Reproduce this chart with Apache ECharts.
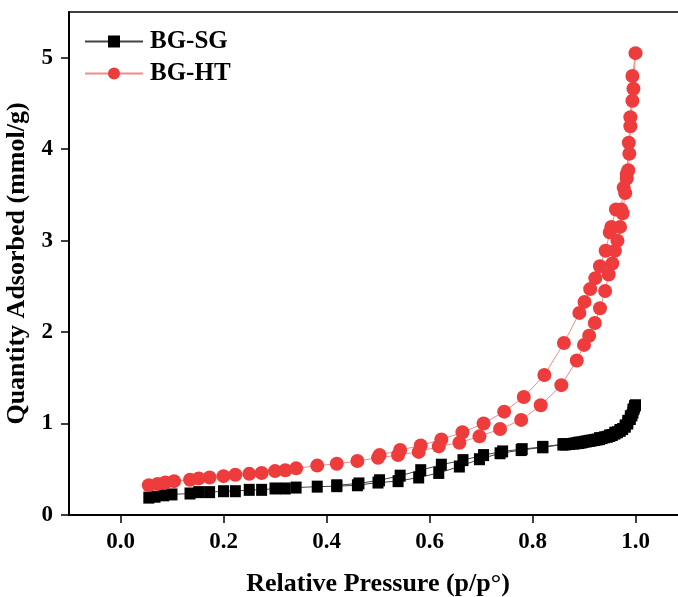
<!DOCTYPE html>
<html><head><meta charset="utf-8">
<script src="https://cdn.jsdelivr.net/npm/echarts@6/dist/echarts.min.js"></script>
<style>html,body{margin:0;padding:0;background:#fff}#c{width:678px;height:597px}</style>
</head><body><div id="c"></div>
<script>
// BG-SG: adsorption branch then desorption branch
const sgX = [0.055,0.067,0.084,0.10,0.135,0.152,0.173,0.20,0.223,0.25,0.274,0.30,0.32,0.341,0.382,0.42,0.46,0.50,0.539,0.579,0.618,0.658,0.697,0.737,0.778,0.82,0.859,0.865,0.872,0.88,0.885,0.89,0.895,0.90,0.905,0.91,0.915,0.92,0.925,0.93,0.935,0.94,0.945,0.95,0.955,0.96,0.965,0.97,0.975,0.98,0.985,0.99,0.993,0.995,0.997,0.998,1.0,
  0.998,0.995,0.99,0.985,0.98,0.97,0.96,0.95,0.93,0.91,0.89,0.86,0.82,0.78,0.742,0.705,0.665,0.623,0.583,0.543,0.503,0.463,0.42];
const sgY = [0.19,0.20,0.215,0.225,0.235,0.25,0.25,0.26,0.26,0.275,0.275,0.29,0.29,0.30,0.31,0.315,0.325,0.355,0.37,0.41,0.46,0.53,0.61,0.675,0.71,0.74,0.77,0.772,0.776,0.78,0.785,0.79,0.793,0.80,0.805,0.81,0.815,0.82,0.825,0.83,0.84,0.85,0.855,0.865,0.875,0.89,0.905,0.92,0.94,0.965,1.0,1.05,1.09,1.12,1.16,1.18,1.2,
  1.19,1.15,1.08,1.03,0.98,0.93,0.90,0.87,0.84,0.81,0.79,0.775,0.745,0.72,0.695,0.655,0.60,0.55,0.49,0.43,0.38,0.345,0.325];
// BG-HT: adsorption branch then desorption branch
const htX = [0.055,0.072,0.087,0.104,0.135,0.152,0.173,0.20,0.223,0.25,0.274,0.30,0.32,0.341,0.382,0.42,0.46,0.50,0.539,0.579,0.618,0.658,0.697,0.737,0.778,0.816,0.856,0.886,0.90,0.91,0.921,0.931,0.941,0.948,0.955,0.96,0.965,0.97,0.975,0.98,0.983,0.986,0.988,0.99,0.994,0.996,1.0,
  0.994,0.99,0.987,0.983,0.977,0.972,0.962,0.953,0.95,0.942,0.931,0.922,0.912,0.901,0.891,0.861,0.823,0.783,0.745,0.705,0.664,0.623,0.583,0.543,0.503];
const htY = [0.325,0.34,0.355,0.37,0.385,0.40,0.41,0.425,0.44,0.45,0.46,0.48,0.49,0.51,0.54,0.56,0.59,0.625,0.655,0.69,0.75,0.79,0.86,0.94,1.04,1.20,1.42,1.69,1.86,1.96,2.10,2.26,2.45,2.63,2.75,2.89,3.0,3.15,3.30,3.52,3.68,3.77,3.95,4.25,4.53,4.66,5.05,
  4.80,4.35,4.07,3.73,3.58,3.34,3.34,3.15,3.09,2.89,2.72,2.59,2.47,2.33,2.21,1.88,1.53,1.29,1.13,1.00,0.905,0.825,0.76,0.71,0.655];
const xTicks = [0.0,0.2,0.4,0.6,0.8,1.0];
const yTicks = [0,1,2,3,4,5];

const zip = (a,b)=>a.map((v,i)=>[v,b[i]]);
const font = '"Liberation Serif","Times New Roman",serif';
const chart = echarts.init(document.getElementById('c'));
chart.setOption({
  animation:false,
  grid:{left:69,right:-9,top:12,bottom:82,show:true,borderColor:'#000',borderWidth:1.5,outerBoundsMode:'none',containLabel:false},
  legend:{left:79,top:24,orient:'vertical',itemWidth:58,itemHeight:15,itemGap:7,
    textStyle:{fontFamily:font,fontWeight:'bold',fontSize:25,color:'#000',padding:[0,0,0,2]},
    data:['BG-SG','BG-HT']},
  xAxis:{type:'value',min:-0.1,max:1.1,
    name:'Relative Pressure (p/p°)',nameLocation:'middle',nameGap:56,
    nameTextStyle:{fontFamily:font,fontWeight:'bold',fontSize:26,color:'#000'},
    axisLine:{lineStyle:{color:'#000',width:2}},
    axisTick:{customValues:xTicks,length:8,inside:false,lineStyle:{color:'#000',width:1.5}},
    axisLabel:{customValues:xTicks,formatter:v=>v.toFixed(1),margin:16,fontFamily:font,fontWeight:'bold',fontSize:23,color:'#000'},
    splitLine:{show:false}},
  yAxis:{type:'value',min:0,max:5.5,
    name:'Quantity Adsorbed (mmol/g)',nameLocation:'middle',nameGap:31,
    nameTextStyle:{fontFamily:font,fontWeight:'bold',fontSize:26,color:'#000'},
    axisLine:{onZero:false,lineStyle:{color:'#000',width:2}},
    axisTick:{customValues:yTicks,length:8,lineStyle:{color:'#000',width:1.5}},
    axisLabel:{customValues:yTicks,margin:16,fontFamily:font,fontWeight:'bold',fontSize:23,color:'#000'},
    splitLine:{show:false}},
  series:[
    {name:'BG-SG',type:'line',data:zip(sgX,sgY),symbol:'rect',symbolSize:[11,12],
      itemStyle:{color:'#000'},lineStyle:{color:'#444',width:1}},
    {name:'BG-HT',type:'line',data:zip(htX,htY),symbol:'circle',symbolSize:14,
      itemStyle:{color:'#ee3c3c'},lineStyle:{color:'#f28a8a',width:1}}
  ]
});
</script></body></html>
